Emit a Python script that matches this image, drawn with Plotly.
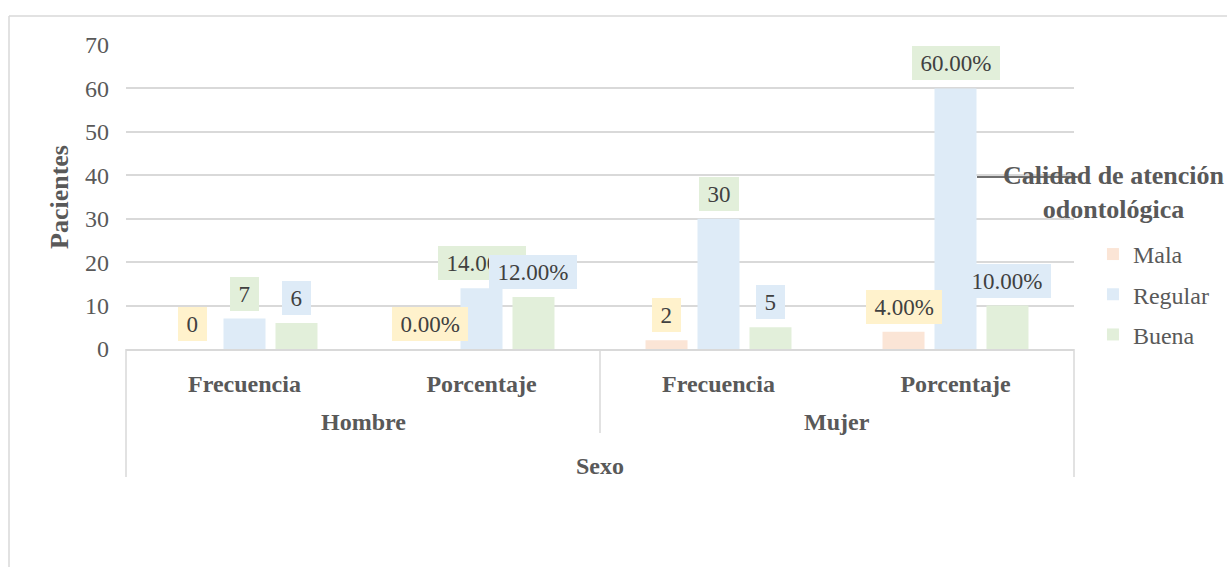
import plotly.graph_objects as go

# ---- data -------------------------------------------------------------
sexo = ["Hombre", "Hombre", "Mujer", "Mujer"]
medida = ["Frecuencia", "Porcentaje", "Frecuencia", "Porcentaje"]
grupos = ["Hombre", "Mujer"]
series_names = ["Mala", "Regular", "Buena"]
mala = [0, 0, 2, 4]
regular = [7, 14, 30, 60]
buena = [6, 12, 5, 10]
y_ticks = [0, 10, 20, 30, 40, 50, 60, 70]

# ---- style ------------------------------------------------------------
FONT = "Liberation Serif, Times New Roman, serif"
TXT = "#595959"
LBL = "#404040"
GRID = "#d9d9d9"
bar_colors = ["#FBE5D6", "#DEEBF7", "#E2EFDA"]
label_fill = ["#FFF2CC", "#E2EFDA", "#DEEBF7"]

W, H = 1227, 567
ML, MR, MT, MB = 126, 153, 45, 218
BARGAP, GROUPGAP = 0.342, 0.192
LABEL_SIZE = 23

series_values = [mala, regular, buena]
x_pos = list(range(len(medida)))


def fmt(value, kind):
    return f"{value:g}" if kind == "Frecuencia" else f"{value:.2f}%"


def text_width(s, size):
    # Times-style advance widths
    em = {".": 0.25, "%": 0.833}
    return sum(em.get(c, 0.5) for c in s) * size


fig = go.Figure()
for name, vals, col in zip(series_names, series_values, bar_colors):
    fig.add_trace(go.Bar(
        x=x_pos, y=vals, name=name, legendgroup=name,
        marker=dict(color=col, line=dict(width=0)),
        hoverinfo="skip",
    ))

# data labels in filled boxes just above each bar
slot = (1 - BARGAP) / len(series_names)
annotations = []
for s_idx, (vals, fill) in enumerate(zip(series_values, label_fill)):
    offset = (s_idx - (len(series_names) - 1) / 2) * slot
    for i, v in enumerate(vals):
        t = fmt(v, medida[i])
        annotations.append(dict(
            x=x_pos[i] + offset, y=v, xref="x", yref="y",
            text=t, showarrow=False, yanchor="bottom", xanchor="center",
            yshift=8, width=text_width(t, LABEL_SIZE) + 17, height=34,
            bgcolor=fill, borderpad=0, borderwidth=0,
            font=dict(family=FONT, size=LABEL_SIZE, color=LBL),
        ))

# outer category level and axis group title
for j, g in enumerate(grupos):
    annotations.append(dict(
        x=2 * j + 0.5, y=0, xref="x", yref="paper", yshift=-73,
        text=f"<b>{g}</b>", showarrow=False, yanchor="middle",
        font=dict(family=FONT, size=24, color=TXT),
    ))
annotations.append(dict(
    x=1.5, y=0, xref="x", yref="paper", yshift=-117,
    text="<b>Sexo</b>", showarrow=False, yanchor="middle",
    font=dict(family=FONT, size=24, color=TXT),
))
# legend heading
annotations.append(dict(
    x=1.0422, y=0.5148, xref="paper", yref="paper",
    text="<b>Calidad de atención</b><br><b>odontológica</b>",
    showarrow=False, xanchor="center", yanchor="middle", align="center",
    font=dict(family=FONT, size=26, color=TXT),
))

line_style = dict(color=GRID, width=1.5)
shapes = [
    # category box
    dict(type="line", xref="paper", yref="paper", x0=0, x1=0,
         ysizemode="pixel", yanchor=0, y0=0, y1=-128, line=line_style),
    dict(type="line", xref="paper", yref="paper", x0=1, x1=1,
         ysizemode="pixel", yanchor=0, y0=0, y1=-128, line=line_style),
    dict(type="line", xref="paper", yref="paper", x0=0.5, x1=0.5,
         ysizemode="pixel", yanchor=0, y0=0, y1=-84, line=line_style),
    # chart frame
    dict(type="line", xref="paper", yref="paper",
         xsizemode="pixel", xanchor=0, x0=-117, x1=-117,
         ysizemode="pixel", yanchor=1, y0=29, y1=-700, line=line_style),
    dict(type="line", xref="paper", yref="paper",
         xsizemode="pixel", xanchor=0, x0=-117, x1=1200,
         ysizemode="pixel", yanchor=1, y0=29, y1=29, line=line_style),
    # leader stroke by the legend heading
    dict(type="line", xref="paper", yref="paper", x0=0.8977, x1=1.004,
         y0=0.5658, y1=0.5658, line=dict(color="#404040", width=1.5)),
]

fig.update_layout(
    width=W, height=H, autosize=False,
    margin=dict(l=ML, r=MR, t=MT, b=MB, pad=0),
    paper_bgcolor="white", plot_bgcolor="white",
    barmode="group", bargap=BARGAP, bargroupgap=GROUPGAP,
    font=dict(family=FONT, color=TXT),
    showlegend=True,
    legend=dict(
        x=1.02, xanchor="left", y=0.385, yanchor="top",
        font=dict(family=FONT, size=24, color=TXT),
        bgcolor="rgba(0,0,0,0)", borderwidth=0,
        tracegroupgap=6, traceorder="grouped",
    ),
    annotations=annotations,
    shapes=shapes,
)
fig.update_xaxes(
    range=[-0.5, len(medida) - 0.5], tickmode="array", tickvals=x_pos,
    ticktext=[f"<b>{m}</b>" for m in medida],
    tickfont=dict(family=FONT, size=24, color=TXT),
    showgrid=False, zeroline=False, ticks="", ticklabelstandoff=12,
    showline=True, linecolor=GRID, linewidth=1.5,
)
fig.update_yaxes(
    range=[0, 70], tickmode="array", tickvals=y_ticks,
    tickfont=dict(family=FONT, size=24, color=TXT),
    showgrid=True, gridcolor=GRID, gridwidth=1.5,
    zeroline=False, ticks="", ticklabelstandoff=16, showline=False,
    title=dict(text="<b>Pacientes</b>", standoff=8,
               font=dict(family=FONT, size=26, color=TXT)),
)

fig.write_html("out.html")
